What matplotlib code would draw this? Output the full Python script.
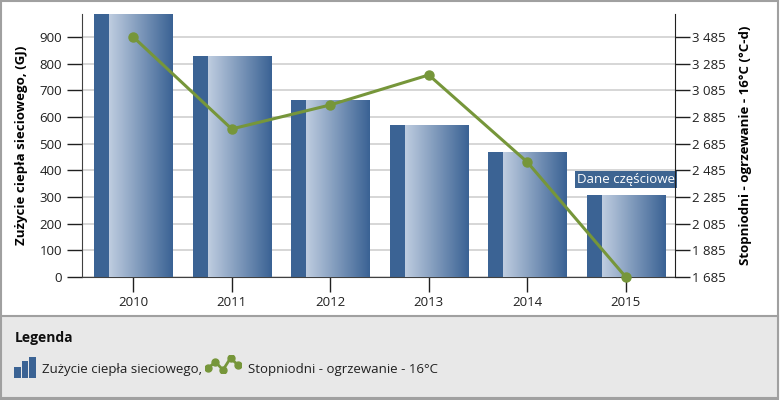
import numpy as np
import matplotlib
matplotlib.use("Agg")
import matplotlib.pyplot as plt
from matplotlib.patches import Rectangle
from matplotlib.colors import LinearSegmentedColormap
from matplotlib.ticker import FuncFormatter

# dane
lata = ["2010", "2011", "2012", "2013", "2014", "2015"]
zuzycie_gj = [986, 829, 664, 570, 469, 307]
stopniodni = [3485, 2795, 2975, 3200, 2547, 1685]
ticki_lewe = [0, 100, 200, 300, 400, 500, 600, 700, 800, 900]
ticki_prawe = [1685, 1885, 2085, 2285, 2485, 2685, 2885, 3085, 3285, 3485]

plt.rcParams['font.family'] = ['Open Sans', 'DejaVu Sans']

niebieski = "#3b6394"
zielony = "#76963a"
gradient = LinearSegmentedColormap.from_list("g", ["#bfcde0", "#3a6294"])

fig = plt.figure(figsize=(7.8, 4.0), dpi=100)

# tlo wykresu i legendy
fig.patches.append(Rectangle((0.001, 0.003), 0.997, 0.994, transform=fig.transFigure,
                             facecolor="white", edgecolor="#a0a0a0", lw=1.5, zorder=-10))
fig.patches.append(Rectangle((0.001, 0.004), 0.997, 0.205, transform=fig.transFigure,
                             facecolor="#e8e8e8", edgecolor="#a0a0a0", lw=1.5, zorder=-5))

ax = fig.add_axes([0.1051, 0.3075, 0.7603, 0.6575])
x = np.arange(len(lata))
bars = ax.bar(x, zuzycie_gj, width=0.79, color=niebieski, zorder=2)

# gradient na slupkach (przyciety do prostokata slupka)
grad = np.linspace(0, 1, 256).reshape(1, -1)
for r in bars:
    x0, w, h = r.get_x(), r.get_width(), r.get_height()
    start = x0 + w * 0.19
    im = ax.imshow(grad, cmap=gradient, extent=(start, x0 + w, 0, h + 50), aspect="auto",
                   interpolation="bilinear", zorder=3)
    im.set_clip_path(r)

ax.set_xlim(-0.52, 5.5)
ax.set_ylim(0, 986)
ax.set_xticks(x)
ax.set_xticklabels(lata)
ax.set_yticks(ticki_lewe)
ax.yaxis.grid(True, color="#d0d0d0", lw=1.2, zorder=0)
ax.set_axisbelow(True)
for s in ["top", "right"]:
    ax.spines[s].set_visible(False)
ax.spines["left"].set_color("#404040")
ax.spines["bottom"].set_color("#404040")
ax.tick_params(axis="both", length=11, width=1, color="#202020", labelsize=9.5, labelcolor="#202020")
ax.tick_params(axis="x", pad=3)
ax.set_ylabel("Zużycie ciepła sieciowego, (GJ)", fontsize=9.5, fontweight="bold", labelpad=8)

ax2 = ax.twinx()
ax2.plot(x, stopniodni, color=zielony, lw=2.2, marker="o", ms=6.5, zorder=5, clip_on=False)
ax2.set_ylim(1685, 3657)
ax2.set_yticks(ticki_prawe)
ax2.yaxis.set_major_formatter(FuncFormatter(lambda v, p: f"{int(v):,}".replace(",", " ")))
for s in ["top", "left", "bottom"]:
    ax2.spines[s].set_visible(False)
ax2.spines["right"].set_color("#202020")
ax2.tick_params(axis="y", length=11, width=1, color="#202020", labelsize=9.5, labelcolor="#202020", pad=1)
ax2.set_ylabel("Stopniodni - ogrzewanie - 16°C (°C-d)", fontsize=9.5, fontweight="bold", labelpad=10)

# adnotacja
ax.text(5.5, 365, "Dane częściowe", ha="right", va="center", color="white", fontsize=9.5,
        bbox=dict(boxstyle="square,pad=0.15", facecolor="#3d6491", edgecolor="none"), zorder=10)

# legenda
fig.text(0.019, 0.155, "Legenda", fontsize=10, fontweight="bold", va="center", color="#101010")
ikona = fig.add_axes([0.018, 0.055, 0.028, 0.0525])
ikona.bar([0, 1, 2], [0.52, 0.81, 1.0], width=0.86, color=niebieski)
ikona.set_xlim(-0.45, 2.45)
ikona.set_ylim(0, 1)
ikona.axis("off")
fig.text(0.054, 0.075, "Zużycie ciepła sieciowego,", fontsize=9.5, va="center", color="#202020")
ikona2 = fig.add_axes([0.2628, 0.0675, 0.0462, 0.045])
ikona2.plot([0, 1, 2, 3, 4], [0.28, 0.61, 0.17, 0.83, 0.44], color=zielony, lw=2, marker="o", ms=5)
ikona2.set_xlim(-0.4, 4.4)
ikona2.set_ylim(0, 1)
ikona2.axis("off")
fig.text(0.318, 0.075, "Stopniodni - ogrzewanie - 16°C", fontsize=9.5, va="center", color="#202020")

fig.savefig("out.png", dpi=100)
